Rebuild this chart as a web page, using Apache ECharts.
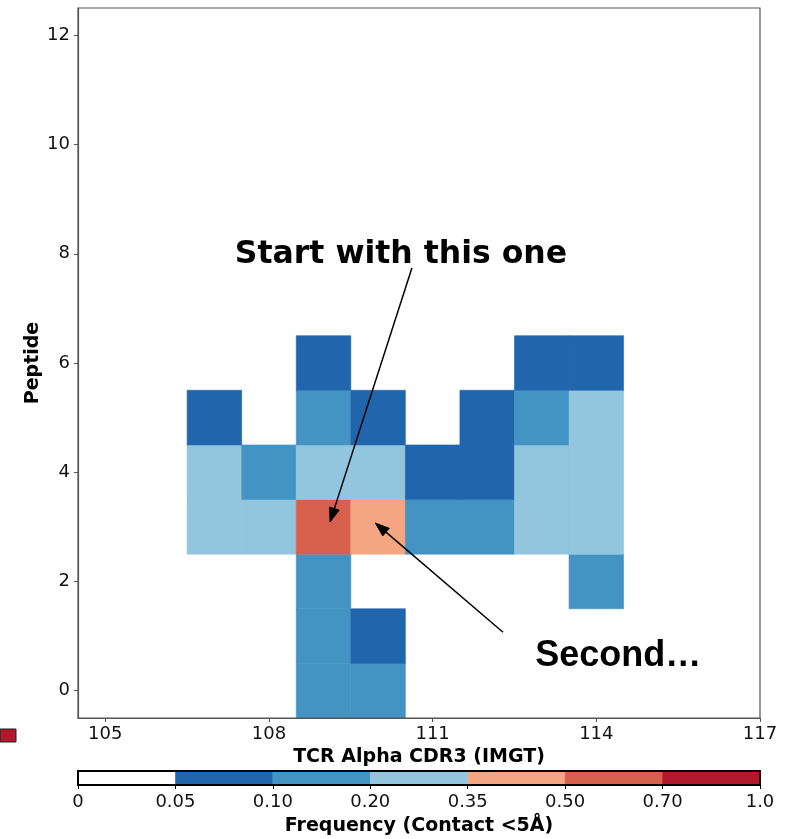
<!DOCTYPE html>
<html>
<head>
<meta charset="utf-8">
<script src="https://cdn.jsdelivr.net/npm/echarts@6/dist/echarts.min.js"></script>
<style>
  html, body { margin: 0; padding: 0; background: #fff; }
  #chart { width: 795px; height: 839px; }
</style>
</head>
<body>
<div id="chart"></div>
<script>
// TCR alpha CDR3 positions (IMGT numbering) in contact with the peptide
const cdr3Positions = [107, 108, 109, 110, 111, 112, 113, 114];
// Contact frequency per peptide position (null = no contact)
const peptidePos6 = [null, null, 0.08, null, null, null, 0.08, 0.08];
const peptidePos5 = [0.08, null, 0.15, 0.08, null, 0.08, 0.15, 0.28];
const peptidePos4 = [0.28, 0.15, 0.28, 0.28, 0.08, 0.08, 0.28, 0.28];
const peptidePos3 = [0.28, 0.28, 0.62, 0.42, 0.15, 0.15, 0.28, 0.28];
const peptidePos2 = [null, null, 0.15, null, null, null, null, 0.15];
const peptidePos1 = [null, null, 0.15, 0.08, null, null, null, null];
const peptidePos0 = [null, null, 0.15, 0.15, null, null, null, null];
const peptideRows = { 0: peptidePos0, 1: peptidePos1, 2: peptidePos2, 3: peptidePos3, 4: peptidePos4, 5: peptidePos5, 6: peptidePos6 };

// Discrete colour scale
const binEdges = [0, 0.05, 0.10, 0.20, 0.35, 0.50, 0.70, 1.0];
const binLabels = ['0', '0.05', '0.10', '0.20', '0.35', '0.50', '0.70', '1.0'];
const binColors = ['#ffffff', '#2166ac', '#4393c3', '#92c5de', '#f4a582', '#d6604d', '#b2182b'];

// Axis ticks
const xTicks = [105, 108, 111, 114, 117];
const yTicks = [0, 2, 4, 6, 8, 10, 12];

// Annotation anchors (data coordinates)
const note1 = { text: 'Start with this one', at: [110.42, 7.98], from: [110.62, 7.74], to: [109.12, 3.09] };
const note2 = { text: 'Second\u2026', at: [112.88, 0.63], from: [112.29, 1.07], to: [109.95, 3.07] };

const cells = [];
Object.keys(peptideRows).forEach(function (k) {
  peptideRows[k].forEach(function (v, i) {
    if (v !== null) cells.push([cdr3Positions[i], Number(k), v]);
  });
});
const barBins = binColors.map(function (c, i) { return [i, i + 1, c]; });

const FONT = 'DejaVu Sans';
const chart = echarts.init(document.getElementById('chart'), null, { renderer: 'canvas' });

function cellRect(params, api) {
  const x = api.value(0), y = api.value(1);
  const p0 = api.coord([x - 0.5, y + 0.5]);
  const p1 = api.coord([x + 0.5, y - 0.5]);
  const c = api.visual('color');
  return {
    type: 'rect',
    shape: { x: p0[0], y: p0[1], width: p1[0] - p0[0], height: p1[1] - p0[1] },
    style: { fill: c, stroke: c, lineWidth: 0.6 }
  };
}

function barRect(params, api) {
  const a = api.coord([api.value(0), 1]);
  const b = api.coord([api.value(1), 0]);
  const c = barBins[params.dataIndex][2];
  return {
    type: 'rect',
    shape: { x: a[0], y: a[1], width: b[0] - a[0], height: b[1] - a[1] },
    style: { fill: c, stroke: c, lineWidth: 0.6 }
  };
}

function barFrame(params, api) {
  const a = api.coord([0, 1]);
  const b = api.coord([binColors.length, 0]);
  return {
    type: 'rect',
    shape: { x: a[0], y: a[1], width: b[0] - a[0], height: b[1] - a[1] },
    style: { fill: 'none', stroke: '#000', lineWidth: 2 }
  };
}

const tickLabelStyle = { fontFamily: FONT, fontSize: 18, color: '#111' };
const nameStyle = { fontFamily: FONT, fontSize: 19, fontWeight: 'bold', color: '#000' };

chart.setOption({
  animation: false,
  backgroundColor: '#fff',
  grid: [
    { left: 78, top: 8, width: 682, height: 710, show: true, z: 10,
      backgroundColor: 'transparent', borderColor: '#555', borderWidth: 1.2 },
    { left: 78, top: 771, width: 682, height: 14 }
  ],
  xAxis: [
    {
      gridIndex: 0, type: 'value', min: 104.5, max: 117,
      name: 'TCR Alpha CDR3 (IMGT)', nameLocation: 'middle', nameGap: 29, nameTextStyle: nameStyle,
      axisLine: { show: true, onZero: false, lineStyle: { color: '#555', width: 1.2 } },
      axisTick: { show: true, length: 4, customValues: xTicks, lineStyle: { color: '#555' } },
      axisLabel: { customValues: xTicks, margin: 7, ...tickLabelStyle },
      splitLine: { show: false }, z: 10
    },
    {
      gridIndex: 1, type: 'value', min: 0, max: binColors.length,
      name: 'Frequency (Contact <5\u00c5)', nameLocation: 'middle', nameGap: 32, nameTextStyle: nameStyle,
      axisLine: { show: false },
      axisTick: { show: true, length: 4, customValues: binEdges.map(function (e, i) { return i; }), lineStyle: { color: '#000' } },
      axisLabel: {
        customValues: binEdges.map(function (e, i) { return i; }), margin: 8, ...tickLabelStyle,
        formatter: function (v) { return binLabels[Math.round(v)]; }
      },
      splitLine: { show: false }
    }
  ],
  yAxis: [
    {
      gridIndex: 0, type: 'value', min: -0.5, max: 12.5,
      name: 'Peptide', nameLocation: 'middle', nameGap: 35, nameMoveOverlap: false, nameTextStyle: nameStyle,
      axisLine: { show: true, onZero: false, lineStyle: { color: '#555', width: 1.2 } },
      axisTick: { show: true, length: 4, customValues: yTicks, lineStyle: { color: '#555' } },
      axisLabel: { customValues: yTicks, margin: 8, ...tickLabelStyle },
      splitLine: { show: false }, z: 10
    },
    { gridIndex: 1, type: 'value', min: 0, max: 1, show: false }
  ],
  visualMap: {
    type: 'piecewise', show: false, seriesIndex: 0, dimension: 2,
    pieces: binColors.map(function (c, i) {
      return { gte: binEdges[i], lt: i === binColors.length - 1 ? 1.0001 : binEdges[i + 1], color: c };
    })
  },
  series: [
    { type: 'custom', name: 'contacts', xAxisIndex: 0, yAxisIndex: 0, renderItem: cellRect, data: cells, encode: { x: 0, y: 1 }, clip: true },
    { type: 'custom', name: 'colorbar', xAxisIndex: 1, yAxisIndex: 1, renderItem: barRect, data: barBins, encode: { x: [0, 1] } },
    { type: 'custom', name: 'colorbar-frame', xAxisIndex: 1, yAxisIndex: 1, renderItem: barFrame, data: [[0, 1]], z: 5 }
  ]
});

// Arrow from a text anchor to a cell, both in data coordinates
function arrow(note) {
  const a = chart.convertToPixel({ gridIndex: 0 }, note.from);
  const b = chart.convertToPixel({ gridIndex: 0 }, note.to);
  const dx = b[0] - a[0], dy = b[1] - a[1];
  const len = Math.sqrt(dx * dx + dy * dy);
  const ux = dx / len, uy = dy / len;
  const headLen = 14, headHalf = 5;
  const bx = b[0] - ux * headLen, by = b[1] - uy * headLen;
  return [
    { type: 'line', z: 100, shape: { x1: a[0], y1: a[1], x2: bx, y2: by }, style: { stroke: '#000', lineWidth: 1.5 } },
    { type: 'polygon', z: 100,
      shape: { points: [[b[0], b[1]], [bx - uy * headHalf, by + ux * headHalf], [bx + uy * headHalf, by - ux * headHalf]] },
      style: { fill: '#000', stroke: '#000', lineWidth: 1 } }
  ];
}

// Text annotations placed at data coordinates
const t1 = chart.convertToPixel({ gridIndex: 0 }, note1.at);
const t2 = chart.convertToPixel({ gridIndex: 0 }, note2.at);
chart.setOption({
  graphic: [
    { type: 'text', x: t1[0], y: t1[1], z: 100,
      style: { text: note1.text, fontFamily: FONT, fontWeight: 'bold', fontSize: 31.5, fill: '#000', align: 'center', verticalAlign: 'middle' } },
    { type: 'text', x: t2[0], y: t2[1], z: 100,
      style: { text: note2.text, fontFamily: 'Liberation Sans', fontWeight: 'bold', fontSize: 36, fill: '#000', align: 'left', verticalAlign: 'middle' } },
    { type: 'rect', shape: { x: 0, y: 729, width: 16, height: 13 }, z: 100,
      style: { fill: '#b2182b', stroke: '#222', lineWidth: 1 } }
  ].concat(arrow(note1), arrow(note2))
});
</script>
</body>
</html>
